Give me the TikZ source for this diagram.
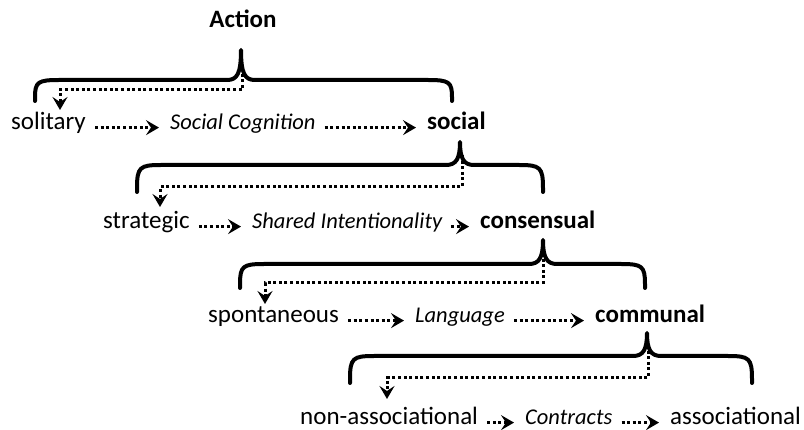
\documentclass[tikz,border=0pt]{standalone}
\usepackage{fontspec}
\setmainfont{Carlito}
\usetikzlibrary{arrows.meta}
\tikzset{
  lbl/.style={inner sep=0pt, anchor=base west, font=\fontsize{25}{30}\selectfont},
  keyw/.style={lbl, font=\fontsize{25}{30}\selectfont\bfseries},
  concept/.style={lbl, font=\fontsize{22.5}{27}\selectfont\itshape},
  bracestyle/.style={line width=4pt, line cap=round, line join=round},
  dots/.style={line width=3pt, dash pattern=on 3pt off 2.6pt,
    -{Stealth[length=13pt,width=15pt,inset=5pt]}},
  flow/.style={dots, shorten <=9pt, shorten >=11pt},
}
\newcommand\mybrace[6]{% L M R top bot tip
  \draw[bracestyle] (#1,#5) -- (#1,#5-4) .. controls (#1,#4+2) and (#1+3,#4) .. (#1+24,#4)
    -- (#2-14,#4) .. controls (#2-4,#4) and (#2,#4-6) .. (#2,#6)
    .. controls (#2,#4-6) and (#2+4,#4) .. (#2+14,#4)
    -- (#3-24,#4) .. controls (#3-3,#4) and (#3,#4+2) .. (#3,#5-4) -- (#3,#5);}
\begin{document}
\begin{tikzpicture}[x=1pt,y=-1pt]
\useasboundingbox (0,0) rectangle (804,430);

% texts
\node[keyw, anchor=base] (action) at (243,28) {Action};

\node[lbl] (solitary) at (11,130) {solitary};
\node[concept] (socog) at (170,130) {Social Cognition};
\node[keyw] (social) at (427,130) {social};

\node[lbl] (strategic) at (103,229) {strategic};
\node[concept] (shared) at (252,229) {Shared Intentionality};
\node[keyw] (consensual) at (480,229) {consensual};

\node[lbl] (spont) at (208,323) {spontaneous};
\node[concept] (lang) at (415,323) {Language};
\node[keyw] (communal) at (595,323) {communal};

\node[lbl] (nonassoc) at (300,425) {non-associational};
\node[concept] (contracts) at (525,425) {Contracts};
\node[lbl] (assoc) at (670,425) {associational};

% horizontal flows
\draw[flow] (solitary.mid east) -- (socog.mid west);
\draw[flow] (socog.mid east) -- (social.mid west);
\draw[flow] (strategic.mid east) -- (shared.mid west);
\draw[flow] (shared.mid east) -- (consensual.mid west);
\draw[flow] (spont.mid east) -- (lang.mid west);
\draw[flow] (lang.mid east) -- (communal.mid west);
\draw[flow] (nonassoc.mid east) -- (contracts.mid west);
\draw[flow] (contracts.mid east) -- (assoc.mid west);

% braces
\mybrace{35}{241}{452}{80}{101}{50}
\mybrace{137}{460}{543}{165}{192}{142}
\mybrace{240}{543}{645}{264}{288}{240}
\mybrace{350}{647}{752}{356}{383}{333}

% drop connectors
\coordinate (s0) at (242,68);  \coordinate (k0) at (60,90);   \coordinate (e0) at (60,110);
\coordinate (s1) at (462,155); \coordinate (k1) at (160,187); \coordinate (e1) at (160,207);
\coordinate (s2) at (543,253); \coordinate (k2) at (265,283); \coordinate (e2) at (265,304);
\coordinate (s3) at (648,345); \coordinate (k3) at (387,378); \coordinate (e3) at (387,399);
\draw[dots] (s0) |- (k0) -- (e0);
\draw[dots] (s1) |- (k1) -- (e1);
\draw[dots] (s2) |- (k2) -- (e2);
\draw[dots] (s3) |- (k3) -- (e3);
\end{tikzpicture}
\end{document}
